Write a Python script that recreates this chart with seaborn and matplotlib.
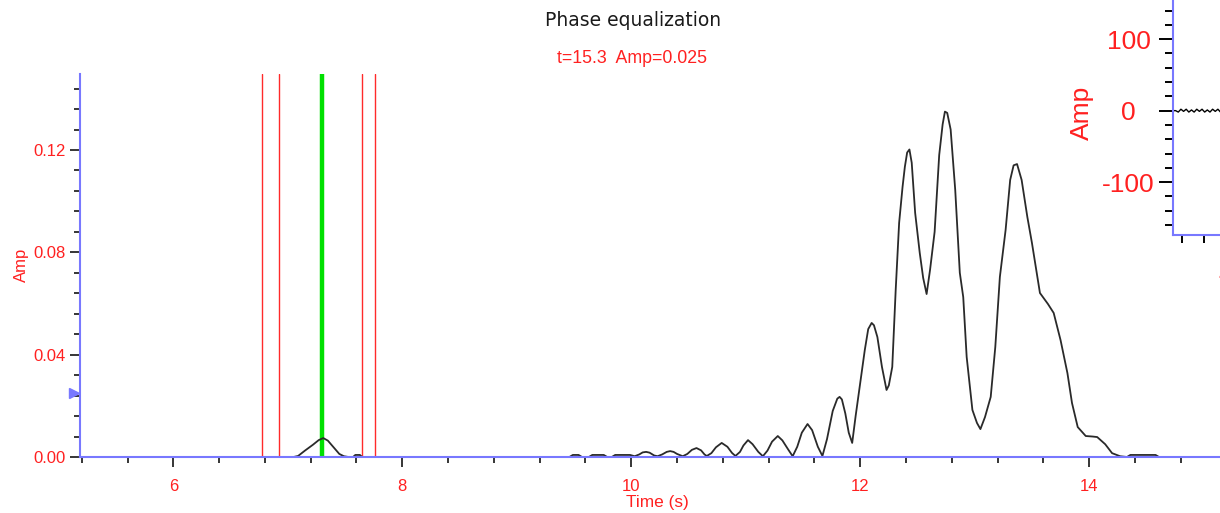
import matplotlib
matplotlib.use("Agg")
import matplotlib.pyplot as plt
from matplotlib.ticker import MultipleLocator, FormatStrFormatter
import seaborn as sns
import numpy as np

# ---------------- data ----------------
signal_t = [5.19, 7.05, 7.09, 7.15, 7.22, 7.27, 7.31, 7.35, 7.40, 7.45, 7.49, 7.53,
            7.57, 7.59, 7.63, 7.65,
            9.46, 9.49, 9.54, 9.57, 9.63, 9.66, 9.76, 9.79, 9.83, 9.86, 9.99,
            10.03, 10.07, 10.10, 10.13, 10.16, 10.20, 10.23, 10.27, 10.31, 10.34,
            10.37, 10.40, 10.45, 10.49, 10.53, 10.57, 10.61, 10.64, 10.66, 10.70,
            10.74, 10.79, 10.84, 10.88, 10.91, 10.95, 10.98, 11.02, 11.06, 11.11,
            11.15, 11.19, 11.23, 11.28, 11.32, 11.37, 11.41, 11.45, 11.49, 11.54,
            11.58, 11.63, 11.67, 11.71, 11.76, 11.80, 11.82, 11.84, 11.87, 11.90, 11.93,
            11.96, 12.00, 12.04, 12.07, 12.10, 12.12, 12.15, 12.19, 12.23, 12.25, 12.28, 12.31,
            12.34, 12.37, 12.39, 12.41, 12.43, 12.45, 12.48, 12.52, 12.55, 12.58, 12.61,
            12.65, 12.69, 12.72, 12.74, 12.76, 12.79, 12.83, 12.87, 12.90, 12.93, 12.98,
            13.02, 13.05, 13.09, 13.14, 13.18, 13.22, 13.27, 13.31, 13.34, 13.37, 13.41,
            13.46, 13.50, 13.57, 13.64, 13.69, 13.75, 13.81, 13.85, 13.90, 13.97,
            14.03, 14.07, 14.14, 14.20, 14.27, 14.33, 14.36, 14.58, 14.61, 15.30]
signal_amp = [0.0, 0.0, 0.0004, 0.0025, 0.0048, 0.0066, 0.0074, 0.0064, 0.0038, 0.0012, 0.0003, 0.0,
              0.0, 0.0008, 0.0008, 0.0,
              0.0, 0.0008, 0.0008, 0.0, 0.0, 0.0008, 0.0008, 0.0, 0.0, 0.0008, 0.0008,
              0.0003, 0.0010, 0.0018, 0.0020, 0.0017, 0.0006, 0.0003, 0.0010, 0.0020, 0.0023,
              0.0020, 0.0012, 0.0003, 0.0012, 0.0028, 0.0035, 0.0026, 0.0010, 0.0004, 0.0015,
              0.0038, 0.0055, 0.0040, 0.0016, 0.0004, 0.0020, 0.0045, 0.0066, 0.0050, 0.0020,
              0.0003, 0.0025, 0.0060, 0.0082, 0.0065, 0.0030, 0.0003, 0.0040, 0.0095, 0.0129,
              0.0105, 0.0040, 0.0004, 0.0070, 0.0180, 0.0228, 0.0235, 0.0225, 0.0170, 0.0095, 0.0055,
              0.0160, 0.0289, 0.0418, 0.0500, 0.0524, 0.0515, 0.0469, 0.0352, 0.0262, 0.0280, 0.0352, 0.0653,
              0.0915, 0.1056, 0.1134, 0.1190, 0.1202, 0.1150, 0.0954, 0.0798, 0.0700, 0.0637, 0.0731,
              0.0880, 0.1180, 0.1300, 0.1350, 0.1345, 0.1280, 0.1044, 0.0720, 0.0625, 0.0391, 0.0184,
              0.0133, 0.0109, 0.0156, 0.0235, 0.0430, 0.0704, 0.0887, 0.1083, 0.1140, 0.1145, 0.1083,
              0.0938, 0.0837, 0.0641, 0.0598, 0.0563, 0.0457, 0.0328, 0.0211, 0.0117, 0.0082,
              0.0080, 0.0078, 0.0050, 0.0015, 0.0003, 0.0, 0.0008, 0.0008, 0.0, 0.0]

red_lines_t = [6.777, 6.926, 7.651, 7.764]
green_line_t = 7.301
cursor_t = 15.3
cursor_amp = 0.025

inset_t = [3.40, 3.43, 3.46, 3.49, 3.52, 3.55, 3.58, 3.61, 3.64, 3.67, 3.70,
           3.73, 3.76, 3.79, 3.82, 3.85, 3.88, 3.91, 3.94, 3.97, 4.00, 4.20]
inset_amp = [0, 0, -2, 2, -1, 2, -2, 1, -2, 2, -1,
             2, -2, 1, -2, 2, -1, 2, -2, 1, 0, 0]

main_xticks_major = 2
main_xticks_minor = 0.4
main_yticks_major = 0.04
main_yticks_minor = 0.008

# ---------------- style ----------------
sns.set_style("white")
plt.rcParams['font.family'] = ['Liberation Sans', 'DejaVu Sans']
plt.rcParams['axes.unicode_minus'] = False

SPINE = '#7878ff'
W, H = 1220, 513
fig = plt.figure(figsize=(W / 100, H / 100), dpi=100)
fig.patch.set_facecolor('white')

# main axes (extends slightly past the right edge, like the cropped reference)
ax = fig.add_axes([80 / W, (H - 457) / H, (1238 - 80) / W, (457 - 74) / H])
ax.set_facecolor('white')

for x in red_lines_t:
    ax.axvline(x, color='#ff2a2a', lw=1.0, zorder=1)
ax.axvline(green_line_t, color='#00e000', lw=3.2, zorder=1.5)

sns.lineplot(x=signal_t, y=signal_amp, ax=ax, color='#2a2a2a', linewidth=1.3,
             estimator=None, sort=False, zorder=2)
for ln in ax.get_lines():
    ln.set_solid_joinstyle('round')

ax.set_xlim(5.185, 15.3)
ax.set_ylim(0, 0.1497)
ax.xaxis.set_major_locator(MultipleLocator(main_xticks_major))
ax.xaxis.set_minor_locator(MultipleLocator(main_xticks_minor))
ax.yaxis.set_major_locator(MultipleLocator(main_yticks_major))
ax.yaxis.set_minor_locator(MultipleLocator(main_yticks_minor))
ax.yaxis.set_major_formatter(FormatStrFormatter('%.2f'))

for s in ['top', 'right']:
    ax.spines[s].set_visible(False)
for s in ['left', 'bottom']:
    ax.spines[s].set_color(SPINE)
    ax.spines[s].set_linewidth(1.5)

ax.tick_params(axis='both', which='major', direction='out', length=7.5, width=1.1,
               color='black', labelcolor='#ff2020', labelsize=12)
ax.tick_params(axis='both', which='minor', direction='out', length=4.3, width=1.1,
               color='black')
ax.tick_params(axis='x', which='major', pad=8)
ax.tick_params(axis='y', which='major', pad=2.5)
ax.tick_params(left=True, bottom=True, which='both')
ax.set_xlabel('')
ax.set_ylabel('')
ax.grid(False)

# cursor marker on the y axis
ax.plot([-0.0052], [cursor_amp], marker='>', color=SPINE, markersize=7,
        transform=ax.get_yaxis_transform(), clip_on=False, zorder=5, linestyle='none')

# texts
fig.text(633 / W, 1 - 20 / H, 'Phase equalization', ha='center', va='center',
         fontsize=13.5, color='#1a1a1a', family=['DejaVu Sans'])
fig.text(632 / W, 1 - 59 / H, f't={cursor_t:.1f}  Amp={cursor_amp:.3f}', ha='center',
         va='center', fontsize=12.8, color='#ff2020')
fig.text(21 / W, 1 - 265 / H, 'Amp', rotation=90, ha='center', va='center',
         fontsize=12, color='#ff2020')
fig.text(657 / W, 1 - 502 / H, 'Time (s)', ha='center', va='center',
         fontsize=12.4, color='#ff2020')

# inset axes at the top right (mostly outside the picture)
axi = fig.add_axes([1173 / W, (H - 235) / H, 0.25, (235 + 18) / H])
axi.set_facecolor('white')
sns.lineplot(x=inset_t, y=inset_amp, ax=axi, color='black', linewidth=1.0,
             estimator=None, sort=False)
axi.set_xlim(3.4, 3.4 + 0.25 * W / 88)
axi.set_ylim(-174, 180)
axi.xaxis.set_major_locator(MultipleLocator(1))
axi.xaxis.set_minor_locator(MultipleLocator(0.25))
axi.yaxis.set_major_locator(MultipleLocator(100))
axi.yaxis.set_minor_locator(MultipleLocator(20))
for s in ['top', 'right']:
    axi.spines[s].set_visible(False)
for s in ['left', 'bottom']:
    axi.spines[s].set_color(SPINE)
    axi.spines[s].set_linewidth(1.5)
axi.tick_params(axis='both', which='major', direction='out', length=10, width=1.4,
                color='black', labelcolor='#ff2020', labelsize=19)
axi.tick_params(axis='both', which='minor', direction='out', length=5.8, width=1.4,
                color='black')
axi.tick_params(left=True, bottom=True, which='both')
axi.tick_params(axis='y', which='major', pad=22)
axi.tick_params(axis='x', which='major', pad=10)
for lab in axi.get_yticklabels():
    lab.set_horizontalalignment('center')
axi.set_xlabel('')
axi.set_ylabel('')
axi.grid(False)
fig.text(1082 / W, 1 - 113 / H, 'Amp', rotation=90, ha='center', va='center',
         fontsize=19, color='#ff2020')

fig.savefig('out.png', dpi=100, facecolor='white')
